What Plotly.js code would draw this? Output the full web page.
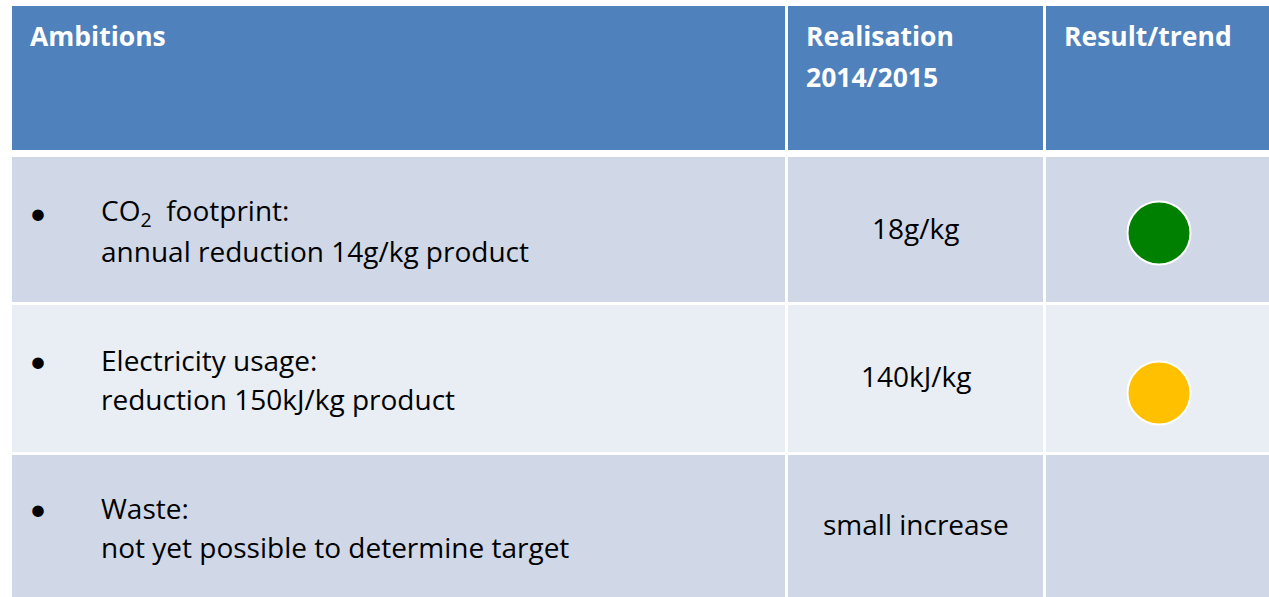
<!DOCTYPE html>
<html>
<head>
<meta charset="utf-8">
<script src="https://cdn.plot.ly/plotly-3.0.1.min.js"></script>
<style>
  html, body { margin: 0; padding: 0; background: #fff; }
  #chart { width: 1269px; height: 597px; }
</style>
</head>
<body>
<div id="chart"></div>
<script>
// table content
var headers = ['Ambitions', 'Realisation<br>2014/2015', 'Result/trend'];
var ambitionTitles = ['CO<sub>2</sub>\u00a0 footprint:', 'Electricity usage:', 'Waste:'];
var ambitionTargets = ['annual reduction 14g/kg product', 'reduction 150kJ/kg product', 'not yet possible to determine target'];
var realisation = ['18g/kg', '140kJ/kg', 'small increase'];
var trend = ['green', 'amber', null];

// looks
var trendColors = { green: '#008000', amber: '#FFC000' };
var headerFill = '#4F81BD';
var bandFills = ['#D0D8E8', '#E9EDF4', '#D0D8E8'];
var font = '"Open Sans", Lato, sans-serif';
var fontSize = 28;
var headSize = 26.5;

// grid (pixel units on hidden axes)
var colEdges = [[12, 785], [788, 1043], [1046, 1290]];
var headerEdge = [6, 150];
var rowEdges = [[157, 302], [305, 452], [455, 610]];
var rowMid = [230, 378, 526];
var dotNudge = [3, 15, 0];

var shapes = [];
var annotations = [];

function rect(x0, x1, y0, y1, fill) {
  shapes.push({
    type: 'rect', xref: 'x', yref: 'y', x0: x0, x1: x1, y0: y0, y1: y1,
    fillcolor: fill, line: { width: 0 }, layer: 'below'
  });
}

function label(x, y, text, opts) {
  annotations.push(Object.assign({
    x: x, y: y, xref: 'x', yref: 'y', text: text, showarrow: false,
    xanchor: 'left', yanchor: 'middle', align: 'left', borderpad: 0,
    font: { family: font, size: fontSize, color: '#000' }
  }, opts || {}));
}

// header row
colEdges.forEach(function (c, j) {
  rect(c[0], c[1], headerEdge[0], headerEdge[1], headerFill);
  headers[j].split('<br>').forEach(function (t, k) {
    label(c[0] + 17, headerEdge[0] + 30 + k * 41, '<b>' + t + '</b>',
      { font: { family: font, size: headSize, color: '#fff' } });
  });
});

// body rows
var dotX = [], dotY = [], dotC = [];
rowEdges.forEach(function (r, i) {
  colEdges.forEach(function (c) { rect(c[0], c[1], r[0], r[1], bandFills[i]); });
  var cy = rowMid[i];
  label(38, cy - 18, '\u2022', { xanchor: 'center', font: { family: 'Lato, sans-serif', size: 31, color: '#000' } });
  label(100, cy - 18, ambitionTitles[i]);
  label(100, cy + 21, ambitionTargets[i]);
  label((colEdges[1][0] + colEdges[1][1]) / 2, cy - 2, realisation[i], { xanchor: 'center', align: 'center' });
  if (trend[i]) {
    dotX.push(1159);
    dotY.push(cy + dotNudge[i]);
    dotC.push(trendColors[trend[i]]);
  }
});

var dots = {
  x: dotX, y: dotY, type: 'scatter', mode: 'markers', hoverinfo: 'skip',
  marker: { size: 63, color: dotC, line: { color: '#fff', width: 2 } }
};

var layout = {
  width: 1269, height: 597,
  margin: { l: 0, r: 0, t: 0, b: 0 },
  paper_bgcolor: '#fff', plot_bgcolor: '#fff',
  showlegend: false,
  xaxis: { range: [0, 1269], visible: false, fixedrange: true },
  yaxis: { range: [597, 0], visible: false, fixedrange: true },
  shapes: shapes,
  annotations: annotations
};

Plotly.newPlot('chart', [dots], layout, { displayModeBar: false, staticPlot: true });
</script>
</body>
</html>
